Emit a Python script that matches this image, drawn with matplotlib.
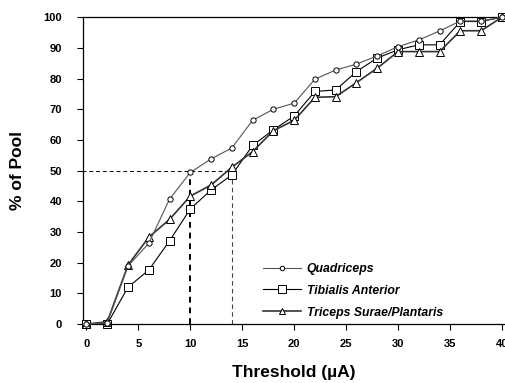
import matplotlib
matplotlib.use("Agg")
import matplotlib.pyplot as plt

plt.rcParams['font.family'] = ['Liberation Sans', 'DejaVu Sans']

# data
threshold = [0, 2, 4, 6, 8, 10, 12, 14, 16, 18, 20, 22, 24, 26, 28, 30, 32, 34, 36, 38, 40]
quadriceps = [0, 0.4, 18.9, 26.3, 40.7, 49.4, 53.8, 57.4, 66.4, 70.0, 72.0,
              79.8, 82.8, 84.7, 87.4, 90.4, 92.6, 95.5, 98.8, 98.8, 100]
tibialis = [0, 0, 12.0, 17.6, 27.1, 37.5, 43.7, 48.6, 58.2, 63.3, 67.8,
            75.8, 76.3, 82.3, 86.7, 89.4, 91.0, 91.0, 98.6, 98.6, 100]
triceps = [0, 0.7, 19.2, 28.3, 34.1, 41.7, 45.3, 51.1, 56.2, 63.0, 66.4,
           73.9, 74.1, 78.7, 83.4, 88.8, 88.8, 88.8, 95.6, 95.6, 100]
labels = ["Quadriceps", "Tibialis Anterior", "Triceps Surae/Plantaris"]
half_pool = 50
half_quad = 10
half_tib = 14

fig = plt.figure(figsize=(5.05, 3.83), dpi=100)
ax = fig.add_axes([0.164, 0.154, 0.836, 0.801])

ax.plot(threshold, quadriceps, color='#555555', lw=0.8, marker='o', ms=3.8,
        mfc='white', mec='black', mew=0.7, label=labels[0], clip_on=False, zorder=4)
ax.plot(threshold, tibialis, color='black', lw=0.8, marker='s', ms=6,
        mfc='white', mec='black', mew=0.7, label=labels[1], clip_on=False, zorder=3)
ax.plot(threshold, triceps, color='#333333', lw=1.2, marker='^', ms=5.5,
        mfc='white', mec='black', mew=0.7, label=labels[2], clip_on=False, zorder=3)

# 50% guide lines
ax.plot([-0.4, half_tib], [half_pool, half_pool], ls='--', color='black', lw=0.7, dashes=(4, 3))
ax.plot([half_quad, half_quad], [0, half_pool], ls='--', color='black', lw=1.4, dashes=(3, 2.5))
ax.plot([half_tib, half_tib], [0, half_pool], ls='--', color='#444444', lw=0.8, dashes=(4, 3))

ax.set_xlim(-0.35, 40.3)
ax.set_ylim(0, 100)
ax.set_xticks(range(0, 41, 5))
ax.set_yticks(range(0, 101, 10))
ax.spines['right'].set_visible(False)
for s in ['left', 'bottom', 'top']:
    ax.spines[s].set_linewidth(0.9)
ax.tick_params(axis='y', direction='out', length=4, width=0.8, pad=11, labelsize=8)
ax.tick_params(axis='x', direction='out', length=4, width=0.8, pad=7, labelsize=8)
for lab in ax.get_xticklabels() + ax.get_yticklabels():
    lab.set_fontweight('bold')

ax.set_xlabel("Threshold (\u00b5A)", fontsize=12.5, fontweight='bold', labelpad=11)
ax.set_ylabel("% of Pool", fontsize=12.5, fontweight='bold', labelpad=13)

leg = ax.legend(loc='lower left', bbox_to_anchor=(0.4, -0.018), frameon=False,
                prop={'style': 'italic', 'weight': 'bold', 'size': 8.8},
                handlelength=3.1, labelspacing=0.8, handletextpad=0.5,
                markerscale=0.85)

fig.savefig("out.png", dpi=100)
